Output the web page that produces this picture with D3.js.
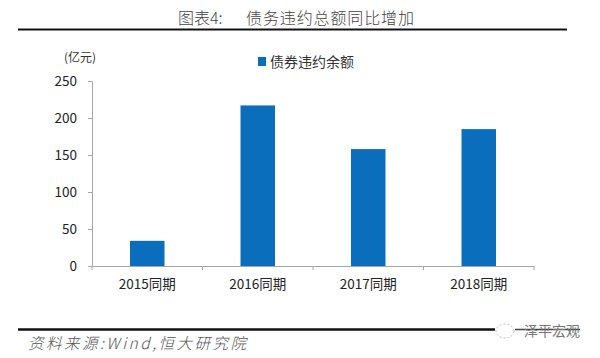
<!DOCTYPE html>
<html>
<head>
<meta charset="utf-8">
<script src="https://cdnjs.cloudflare.com/ajax/libs/d3/7.8.5/d3.min.js"></script>
<style>
html, body { margin: 0; padding: 0; background: #fff; }
svg { display: block; }
text { fill: #333; }
</style>
</head>
<body>
<svg id="chart" width="600" height="358"></svg>
<script>
var categories = ["2015同期", "2016同期", "2017同期", "2018同期"]
var values = [34, 217, 158, 185]
var yTicks = [0, 50, 100, 150, 200, 250]
var seriesName = "债券违约余额"
var titleLabel = "图表4:"
var titleText = "债务违约总额同比增加"
var unitText = "(亿元)"
var sourceText = "资料来源:Wind,恒大研究院"
var watermarkText = "泽平宏观"

var sans = "'Noto Sans CJK SC', 'Liberation Sans', sans-serif"
var serif = "'Noto Sans CJK SC', 'DejaVu Serif', serif"
var blue = "#0b6ebd"
var axisGrey = "#a6a6a6"

var svg = d3.select("#chart")

var scaleX = d3.scaleBand().domain(categories).range([92, 534])
var scaleY = d3.scaleLinear().domain([0, 250]).range([266, 81])

// title and the two black rules
svg.append("text").attr("x", 178).attr("y", 24)
    .style("font-family", serif).style("font-size", "16px")
    .style("font-weight", 300).style("fill", "#444")
    .text(titleLabel)
svg.append("text").attr("x", 246).attr("y", 24)
    .style("font-family", serif).style("font-size", "16px")
    .style("font-weight", 300).style("fill", "#444")
    .attr("textLength", 168)
    .text(titleText)

svg.append("line").attr("x1", 18).attr("x2", 567).attr("y1", 29.5).attr("y2", 29.5)
    .style("stroke", "#111").style("stroke-width", 2)
svg.append("line").attr("x1", 18).attr("x2", 495).attr("y1", 329.5).attr("y2", 329.5)
    .style("stroke", "#111").style("stroke-width", 2.5)

// bars
svg.selectAll("rect.bar")
    .data(values)
    .enter().append("rect")
    .attr("class", "bar")
    .attr("x", function(d, i) {
        return scaleX(categories[i]) + (scaleX.bandwidth() - 34.5) / 2
    })
    .attr("y", function(d) { return scaleY(d) })
    .attr("width", 34.5)
    .attr("height", function(d) { return scaleY(0) - scaleY(d) })
    .attr("fill", blue)

// axes
var yAxis = d3.axisLeft(scaleY).tickValues(yTicks).tickSize(4).tickPadding(11).tickSizeOuter(0)
var gy = svg.append("g").attr("transform", "translate(92,0)").call(yAxis)

var xAxis = d3.axisBottom(scaleX).tickSize(0).tickPadding(13)
var gx = svg.append("g").attr("transform", "translate(0,266)").call(xAxis)

// category ticks sit on the band edges, not the band centres
svg.append("g").selectAll("line")
    .data(d3.range(categories.length + 1))
    .enter().append("line")
    .attr("x1", function(i) { return i < categories.length ? scaleX(categories[i]) : scaleX.range()[1] })
    .attr("x2", function(i) { return i < categories.length ? scaleX(categories[i]) : scaleX.range()[1] })
    .attr("y1", 266).attr("y2", 270)
    .style("stroke", axisGrey)

gy.selectAll("path, line").style("stroke", axisGrey)
gx.selectAll("path").style("stroke", axisGrey)
gy.selectAll("text").style("font-family", sans).style("font-size", "13.5px").style("fill", "#222")
gx.selectAll("text").style("font-family", sans).style("font-size", "13.5px").style("fill", "#222")

// unit label
svg.append("text").attr("x", 80).attr("y", 62)
    .attr("text-anchor", "middle")
    .style("font-family", sans).style("font-size", "12px")
    .text(unitText)

// legend
svg.append("rect").attr("x", 258).attr("y", 57).attr("width", 8).attr("height", 9).attr("fill", blue)
svg.append("text").attr("x", 270).attr("y", 66.5)
    .style("font-family", sans).style("font-size", "14px")
    .text(seriesName)

// source and watermark
svg.append("text").attr("x", 28).attr("y", 349)
    .style("font-family", serif).style("font-size", "15.5px")
    .style("font-style", "italic").style("font-weight", 300).style("fill", "#555")
    .attr("textLength", 218)
    .text(sourceText)

svg.append("ellipse").attr("cx", 505).attr("cy", 331).attr("rx", 9).attr("ry", 7)
    .style("fill", "none").style("stroke", "#bbb").style("stroke-dasharray", "2,2")
svg.append("line").attr("x1", 515).attr("x2", 580).attr("y1", 329.5).attr("y2", 329.5)
    .style("stroke", "#444").style("stroke-width", 1.5)
svg.append("text").attr("x", 524).attr("y", 336)
    .style("font-family", sans).style("font-size", "14px").style("fill", "#777")
    .text(watermarkText)
</script>
</body>
</html>
